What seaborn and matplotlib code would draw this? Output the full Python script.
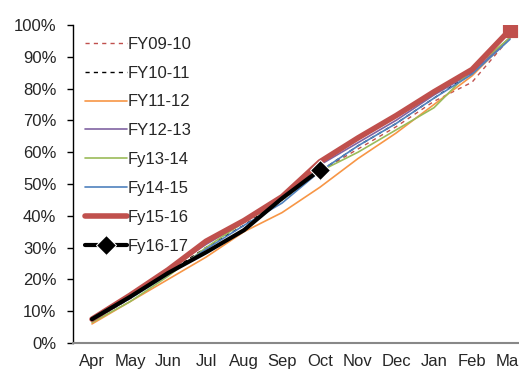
import numpy as np
import seaborn as sns
from matplotlib import pyplot as plt
from matplotlib.ticker import PercentFormatter, FixedLocator

months = ['Apr', 'May', 'Jun', 'Jul', 'Aug', 'Sep', 'Oct', 'Nov', 'Dec', 'Jan', 'Feb', 'Mar']

# cumulative share of the year, in percent
fy0910 = [7, 14, 22, 30, 37, 45, 54, 61, 68, 76, 82, 96]
fy1011 = [7, 14, 22, 30, 37, 45, 54, 62, 69, 77, 85, 96]
fy1112 = [6, 13, 20, 27, 35, 41, 49, 58, 66, 75, 84, 96]
fy1213 = [7.5, 14.5, 23, 31, 38, 46, 56, 63, 70, 78, 85, 96]
fy1314 = [6.5, 13, 21, 30, 38, 45, 54, 60, 67, 74, 86, 96]
fy1415 = [7, 14, 21.5, 29.5, 37, 44, 54, 62, 69, 77, 84.5, 95.5]
fy1516 = [7.5, 15, 23, 32, 38.5, 46, 57, 64.5, 71.5, 79, 86, 98.5]
fy1617 = [7.5, 14.5, 22, 28.5, 35.5, 45.5, 54.5]

sns.set_style('white')
plt.rcParams['font.family'] = ['Liberation Sans', 'DejaVu Sans']

fig = plt.figure(figsize=(5.19, 3.69), dpi=100)
ax = fig.add_axes([73 / 519, 26 / 369, 456 / 519, 318 / 369])

x = np.arange(len(months))

series = [
    ('FY09-10', fy0910, '#C0504D', 1.0, (0, (3, 3))),
    ('FY10-11', fy1011, 'black', 1.0, (0, (3, 3))),
    ('FY11-12', fy1112, '#F79646', 1.2, '-'),
    ('FY12-13', fy1213, '#8064A2', 1.2, '-'),
    ('Fy13-14', fy1314, '#9BBB59', 1.2, '-'),
    ('Fy14-15', fy1415, '#4F81BD', 1.2, '-'),
    ('Fy15-16', fy1516, '#C0504D', 4.0, '-'),
]
for name, vals, col, lw, ls in series:
    sns.lineplot(x=x[:len(vals)], y=vals, color=col, linewidth=lw, linestyle=ls,
                 label=name, ax=ax)

# end marker on Fy15-16
sns.scatterplot(x=[x[-1]], y=[fy1516[-1]], marker='s', s=110, color='#C0504D',
                edgecolor='#C0504D', ax=ax, legend=False, zorder=5)

n = len(fy1617)
sns.lineplot(x=x[:n], y=fy1617, color='black', linewidth=3, marker='D',
             markersize=10, markevery=[n - 1], label='Fy16-17', ax=ax)

ax.set_xlim(-0.5, 11.5)
ax.set_ylim(0, 100)
ax.yaxis.set_major_locator(FixedLocator(np.arange(0, 101, 10)))
ax.yaxis.set_major_formatter(PercentFormatter(xmax=100, decimals=0))
ax.set_xticks(x)
ax.set_xticklabels(months)
ax.xaxis.set_minor_locator(FixedLocator(np.arange(-0.5, 12, 1)))
ax.tick_params(axis='x', which='major', length=0, pad=8, labelsize=12)
ax.tick_params(axis='x', which='minor', length=4, width=1, color='#555555', direction='out')
ax.tick_params(axis='y', length=4, width=1, color='black', direction='out', pad=8, labelsize=12,
               left=True)

for s in ['top', 'right']:
    ax.spines[s].set_visible(False)
ax.spines['left'].set_color('black')
ax.spines['left'].set_linewidth(1)
ax.spines['bottom'].set_color('#888888')
ax.spines['bottom'].set_linewidth(1.5)
ax.set_xlabel('')
ax.set_ylabel('')

ax.legend(loc='upper left', bbox_to_anchor=(12 / 456, 0.963), frameon=False, fontsize=12,
          borderaxespad=0, borderpad=0, handlelength=2.5, handletextpad=0.05,
          labelspacing=0.83)

fig.savefig('out.png', dpi=100)
